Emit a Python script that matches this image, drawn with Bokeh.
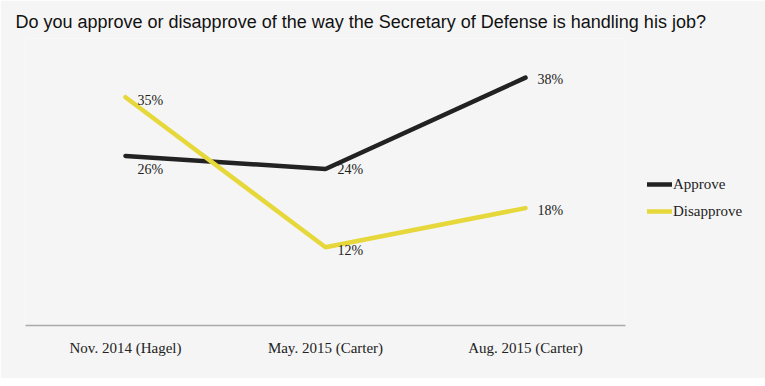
from bokeh.plotting import figure
from bokeh.models import ColumnDataSource, Legend, LegendItem, LabelSet
from bokeh.embed import file_html
from bokeh.resources import INLINE

title_text = "Do you approve or disapprove of the way the Secretary of Defense is handling his job?"
periods = ["Nov. 2014 (Hagel)", "May. 2015 (Carter)", "Aug. 2015 (Carter)"]
approve = [26, 24, 38]
disapprove = [35, 12, 18]
series_names = ["Approve", "Disapprove"]

# label placement (style, kept separate from data)
approve_label_dy = [-14, -1, -2]
disapprove_label_dy = [-3, -3, -2]

BG = "#f5f5f5"
BLACK = "#222222"
YELLOW = "#e6d83a"
SERIF = "Liberation Serif"

p = figure(x_range=periods, y_range=(0, 44),
           frame_width=600, frame_height=287,
           min_border_left=25, min_border_right=5, min_border_top=38, min_border_bottom=53,
           output_backend="svg", toolbar_location=None, title=title_text)

p.background_fill_color = BG
p.border_fill_color = BG
p.outline_line_color = None
p.xgrid.grid_line_color = None
p.ygrid.grid_line_color = None
p.yaxis.visible = False

p.title.text_font = "Liberation Sans"
p.title.text_font_size = "18px"
p.title.text_font_style = "normal"
p.title.text_color = "#111111"
p.title.offset = -10
p.title.standoff = 14

ax = p.xaxis[0]
ax.axis_line_color = "#aaaaaa"
ax.axis_line_width = 1.5
ax.major_tick_line_color = None
ax.minor_tick_line_color = None
ax.major_label_text_font = SERIF
ax.major_label_text_font_size = "15px"
ax.major_label_text_color = "#222222"
ax.major_label_standoff = 8

src_a = ColumnDataSource(dict(x=periods, y=approve, t=[f"{v}%" for v in approve], dy=approve_label_dy))
src_d = ColumnDataSource(dict(x=periods, y=disapprove, t=[f"{v}%" for v in disapprove], dy=disapprove_label_dy))

r_a = p.line("x", "y", source=src_a, line_color=BLACK, line_width=4.5, line_cap="round")
r_d = p.line("x", "y", source=src_d, line_color=YELLOW, line_width=4.5, line_cap="round")

for src in (src_a, src_d):
    lbl = LabelSet(x="x", y="y", text="t", source=src, x_offset=12, y_offset="dy",
                   text_font=SERIF, text_font_size="14px", text_color="#222222",
                   text_baseline="middle", text_align="left")
    p.add_layout(lbl)

legend = Legend(items=[LegendItem(label=series_names[0], renderers=[r_a]),
                       LegendItem(label=series_names[1], renderers=[r_d])],
                location=(22, 104), border_line_color=None, background_fill_alpha=0,
                label_text_font=SERIF, label_text_font_size="15px", label_text_color="#222222",
                glyph_width=25, spacing=7, padding=10, margin=10, label_standoff=1)
p.add_layout(legend, "right")

open("out.html", "w").write(file_html(p, INLINE))
